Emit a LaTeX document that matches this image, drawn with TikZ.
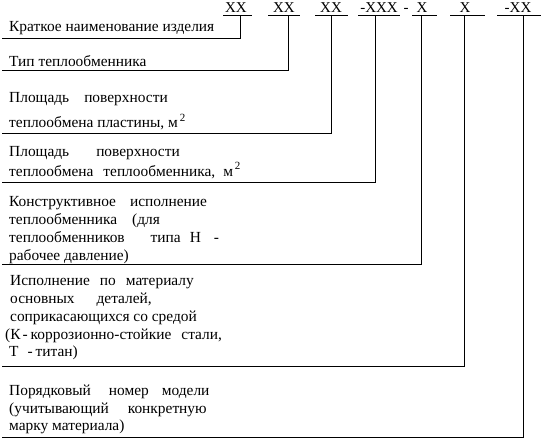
\documentclass[tikz,border=0pt]{standalone}
\usepackage{fontspec}
\setmainfont{Liberation Serif}
\newcommand{\gp}[1]{\hspace{#1pt}}
\newcommand{\sqm}{\hspace{2pt}\raisebox{6.5pt}{\fontsize{11}{11}\selectfont 2}}
\begin{document}
\begin{tikzpicture}[x=1pt,y=-1pt,
  txt/.style={anchor=base west,inner sep=0pt,font=\fontsize{15.4}{18}\selectfont},
  code/.style={anchor=base,inner sep=0pt,font=\fontsize{15}{17}\selectfont},
  ln/.style={line width=0.9pt}]
\useasboundingbox (0,0) rectangle (541,441);
% header codes
\node[code] (c1) at (236,13) {XX};
\node[code] (c2) at (284,13) {XX};
\node[code] (c3) at (331,13) {XX};
\node[code] (c4) at (379,13) {-XXX};
\node[code] (cd) at (406,13) {-};
\node[code] (c5) at (422,13) {X};
\node[code] (c6) at (465,13) {X};
\node[code] (c7) at (518,13) {-XX};
\draw[ln] (223,15) -- (252,15);
\draw[ln] (268,15) -- (300,15);
\draw[ln] (315,15) -- (348,15);
\draw[ln] (358,15) -- (400,15);
\draw[ln] (412,15) -- (437,15);
\draw[ln] (450,15) -- (485,15);
\draw[ln] (497,15) -- (541,15);
% leader lines
\coordinate (t1) at (240,15); \coordinate (e1) at (2,38);
\coordinate (t2) at (288,15); \coordinate (e2) at (2,70);
\coordinate (t3) at (331,15); \coordinate (e3) at (2,133);
\coordinate (t4) at (375,15); \coordinate (e4) at (2,182);
\coordinate (t5) at (421,15); \coordinate (e5) at (2,264);
\coordinate (t6) at (464,15); \coordinate (e6) at (2,366);
\coordinate (t7) at (523,15); \coordinate (e7) at (2,437);
\foreach \i in {1,...,7} {\draw[ln] (e\i) -| (t\i);}
% row 1
\node[txt] (r1) at (9,32) {Краткое наименование изделия};
% row 2
\node[txt] (r2) at (9,67) {Тип теплообменника};
% row 3
\node[txt] (r3a) at (9,103) {Площадь\gp{15}поверхности};
\node[txt] (r3b) at (9,128) {теплообмена пластины, м\sqm};
% row 4
\node[txt] (r4a) at (9,157) {Площадь\gp{27}поверхности};
\node[txt] (r4b) at (9,176) {теплообмена\gp{10}теплообменника,\gp{8}м\sqm};
% row 5
\node[txt] (r5a) at (9,207) {Конструктивное\gp{14}исполнение};
\node[txt] (r5b) at (9,224) {теплообменника\gp{15}(для};
\node[txt] (r5c) at (9,242) {теплообменников\gp{26}типа\gp{9}Н\gp{13}-};
\node[txt] (r5d) at (9,260) {рабочее давление)};
% row 6
\node[txt] (r6a) at (10,285) {Исполнение\gp{10}по\gp{10}материалу};
\node[txt] (r6b) at (10,303) {основных\gp{22}деталей,};
\node[txt] (r6c) at (10,321) {соприкасающихся со средой};
\node[txt] (r6d) at (5,339) {(К\gp{2}-\gp{3}коррозионно-стойкие\gp{10}стали,};
\node[txt] (r6e) at (9,356) {Т\gp{9}-\gp{3}титан)};
% row 7
\node[txt] (r7a) at (9,395) {Порядковый\gp{18}номер\gp{13}модели};
\node[txt] (r7b) at (9,413) {(учитывающий\gp{19}конкретную};
\node[txt] (r7c) at (9,430) {марку материала)};
\end{tikzpicture}
\end{document}
